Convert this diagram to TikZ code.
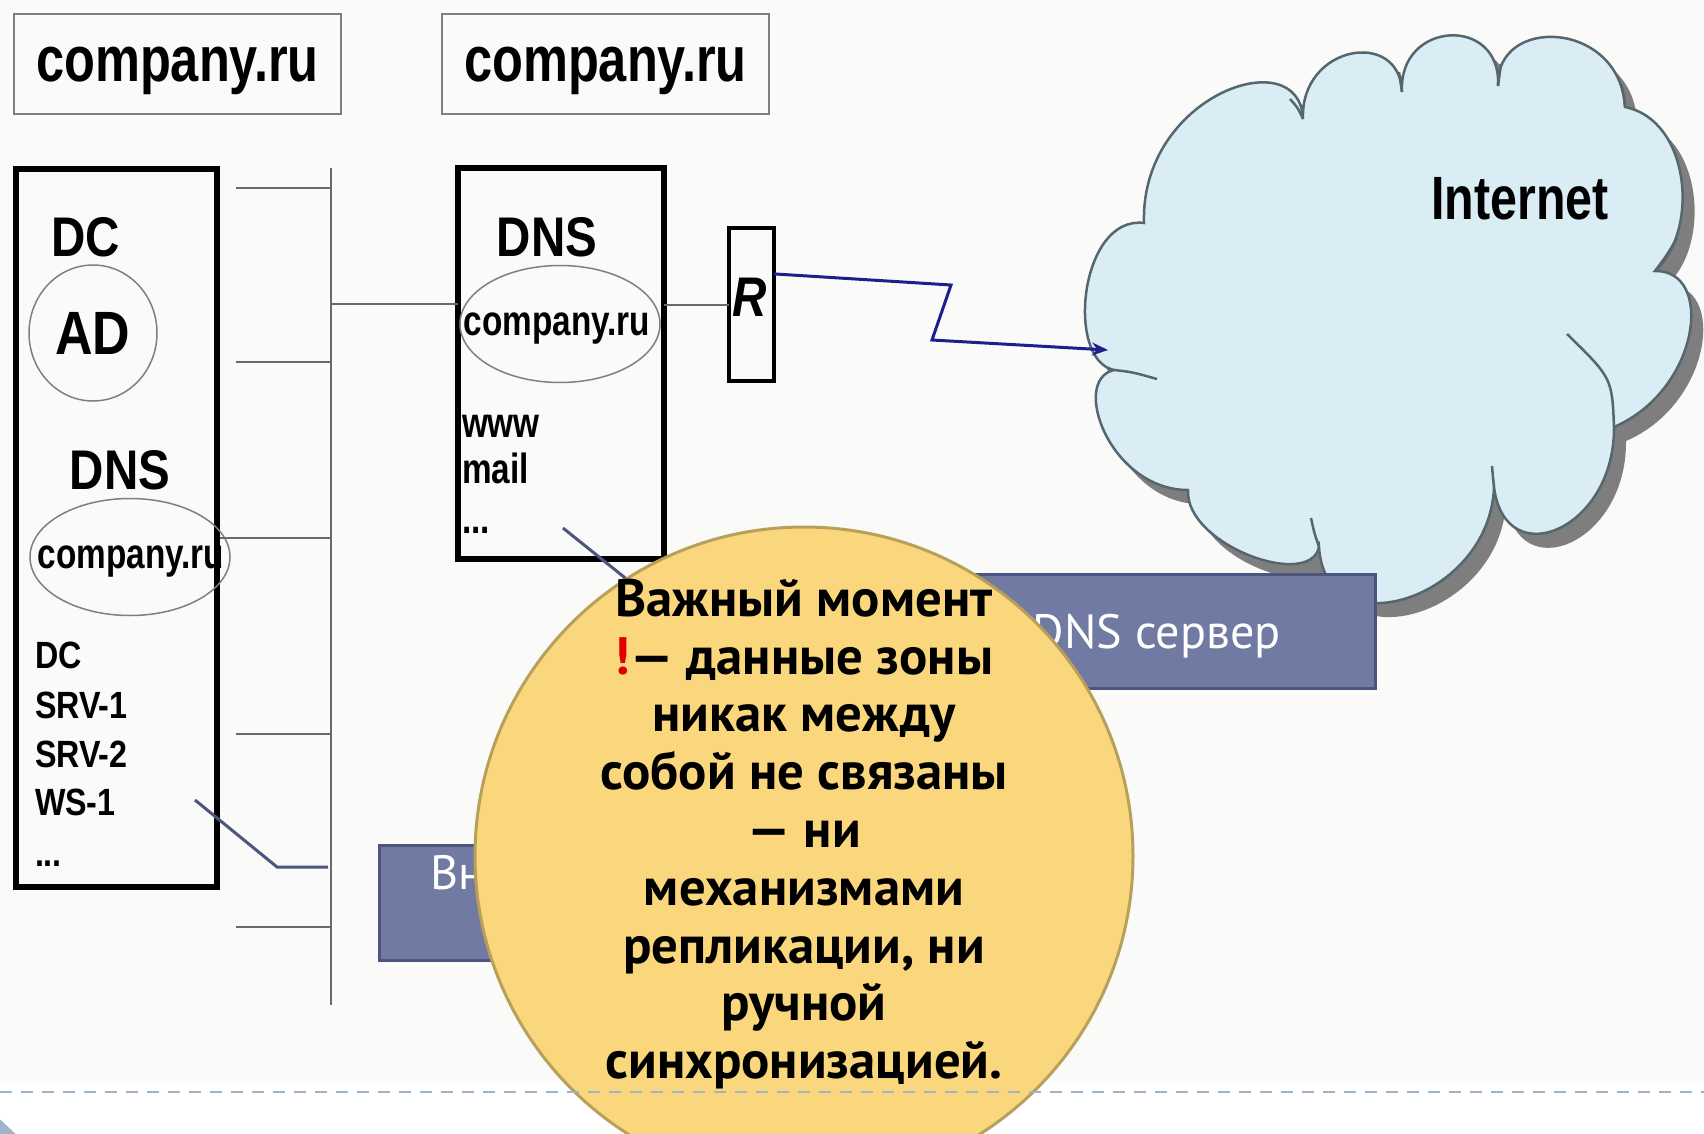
\documentclass[tikz,border=0pt]{standalone}
\usepackage{fontspec}
\setmainfont{Liberation Sans}
\newfontfamily\arialn[FakeStretch=0.79]{Liberation Sans}
\newfontfamily\arialcaps[FakeStretch=0.85]{Liberation Sans}
\newfontfamily\gill{PT Sans}
\usetikzlibrary{arrows.meta,shapes.geometric,calc}

\definecolor{paper}{HTML}{FAFBF8}
\definecolor{zonegray}{HTML}{7F7F7F}
\definecolor{busgray}{HTML}{6A6A6A}
\definecolor{cloudfill}{HTML}{DAECF4}
\definecolor{cloudline}{HTML}{55666E}
\definecolor{shadowgray}{HTML}{7E7E7E}
\definecolor{wanblue}{HTML}{1F1F8C}
\definecolor{slate}{HTML}{707AA3}
\definecolor{slateline}{HTML}{4B5580}
\definecolor{gold}{HTML}{FAD77D}
\definecolor{goldline}{HTML}{B9A05A}
\definecolor{rulecol}{HTML}{9DB4C9}
\definecolor{bang}{HTML}{E00000}

\newcommand{\cloudoutline}{(1114,370) .. controls (1065,360) and (1080,215) .. (1144,223)
  .. controls (1140,95) and (1300,40) .. (1303,119)
  .. controls (1300,45) and (1400,28) .. (1402,92)
  .. controls (1398,20) and (1502,15) .. (1498,86)
  .. controls (1495,15) and (1620,20) .. (1625,107)
  .. controls (1690,120) and (1700,230) .. (1655,271)
  .. controls (1715,270) and (1700,390) .. (1614,427)
  .. controls (1615,530) and (1505,575) .. (1494,487)
  .. controls (1490,600) and (1325,650) .. (1319,547)
  .. controls (1310,590) and (1185,545) .. (1188,490)
  .. controls (1110,490) and (1070,380) .. (1114,370) -- cycle}

\begin{document}
\begin{tikzpicture}[x=0.1mm,y=-0.1mm,
  every node/.style={inner sep=0pt,outer sep=0pt},
  zonebox/.style={draw=zonegray,line width=0.2mm,minimum width=32.7mm,minimum height=10mm,
    text depth=0pt,font=\arialn\bfseries\fontsize{18.2pt}{20pt}\selectfont},
  srvbox/.style={draw=black,line width=0.6mm},
  lbl/.style={font=\arialcaps\bfseries\fontsize{15.9pt}{18pt}\selectfont},
  zoneell/.style={ellipse,draw=zonegray,line width=0.15mm,minimum width=20mm,minimum height=11.7mm},
  zonetxt/.style={text depth=0pt,font=\arialn\bfseries\fontsize{12pt}{14pt}\selectfont},
  host/.style={anchor=base west,font=\arialcaps\bfseries\fontsize{10.8pt}{13pt}\selectfont},
  rec/.style={anchor=base west,font=\arialn\bfseries\fontsize{12pt}{14pt}\selectfont},
  bus/.style={draw=busgray,line width=0.2mm},
  wan/.style={draw=wanblue,line width=0.3mm,-{Stealth[length=1.6mm,width=1.3mm]}},
  notebox/.style={draw=slateline,fill=slate,line width=0.3mm,text=white,text depth=0pt,
    font=\gill\fontsize{13.7pt}{17pt}\selectfont},
  pointer/.style={draw=slateline,line width=0.3mm},
  bubble/.style={circle,draw=goldline,fill=gold,line width=0.3mm,minimum size=65.8mm},
  bubbletext/.style={align=center,font=\gill\bfseries\fontsize{15pt}{16.44pt}\selectfont}]
  \useasboundingbox (0,0) rectangle (1704,1133);
  \clip (0,0) rectangle (1704,1133);
  \fill[white] (0,0) rectangle (1704,1133);
  \fill[paper] (0,0) rectangle (1704,1081);

  \node[zonebox] (zone0) at (177.5,64) {company.ru};
  \node[zonebox] (zone1) at (605.5,64) {company.ru};

  \node[srvbox,minimum width=20.1mm,minimum height=71.8mm] (dc) at (116.5,528) {};
  \node[lbl] (dcname) at (86,237) {DC};
  \node[zoneell,minimum width=12.8mm,minimum height=13.6mm,
    font=\arialcaps\bfseries\fontsize{17.4pt}{20pt}\selectfont] (ad) at (93,333) {AD};
  \node[lbl] (dns0name) at (120,470) {DNS};
  \node[zoneell] (zone2) at (130,557) {};
  \node[zonetxt] (zone2txt) at (131,557) {company.ru};
  \node[host] (h0) at (35,668) {DC};
  \node[host] (h1) at (35,718) {SRV-1};
  \node[host] (h2) at (35,767) {SRV-2};
  \node[host] (h3) at (35,815) {WS-1};
  \node[host] (h4) at (35,866) {...};

  \node[srvbox,minimum width=20.6mm,minimum height=39.1mm] (dns) at (561,363.5) {};
  \node[lbl] (dns1name) at (547,237) {DNS};
  \node[zoneell] (zone3) at (560,324) {};
  \node[zonetxt] (zone3txt) at (557,324) {company.ru};
  \node[rec] (www) at (462,437) {www};
  \node[rec] (mail) at (462,483) {mail};
  \node[rec] (more) at (462,533) {...};

  \node[srvbox,line width=0.45mm,minimum width=4.5mm,minimum height=15.3mm] (router) at (751.5,304.5) {};
  \node[font=\arialcaps\bfseries\itshape\fontsize{15.9pt}{18pt}\selectfont] (rname) at (750,297) {R};

  \coordinate (bustop) at (331,168);
  \coordinate (busbot) at (331,1005);
  \draw[bus] (bustop) -- (busbot);
  \foreach \n/\x/\y in {s0/236/188,s1/236/362,s2/220/538,s3/236/734,s4/236/927}
  {
    \coordinate (\n) at (\x,\y);
    \draw[bus] (\n) -- (\n -| bustop);
  }
  \coordinate (tap) at (331,304);
  \draw[bus] (tap) -- (tap -| dns.west);
  \draw[bus] (dns.east |- router.west) -- (router.west);

  \fill[shadowgray,shift={(12,14)}] \cloudoutline;
  \filldraw[fill=cloudfill,draw=cloudline,line width=0.25mm] \cloudoutline;
  \draw[cloudline,line width=0.25mm] (1114,370) .. controls (1132,372) .. (1157,379);
  \draw[cloudline,line width=0.25mm] (1614,427) .. controls (1612,378) .. (1567,334);
  \draw[cloudline,line width=0.25mm] (1319,547) .. controls (1314,532) .. (1311,518);
  \draw[cloudline,line width=0.25mm] (1494,487) .. controls (1493,478) .. (1492,466);
  \draw[cloudline,line width=0.25mm] (1303,119) .. controls (1298,108) .. (1290,99);
  \draw[cloudline,line width=0.25mm] (1402,92) .. controls (1401,82) .. (1399,72);
  \draw[cloudline,line width=0.25mm] (1498,86) .. controls (1499,75) .. (1501,64);
  \draw[cloudline,line width=0.25mm] (1625,107) .. controls (1624,96) .. (1621,84);
  \draw[cloudline,line width=0.25mm] (1655,271) .. controls (1667,255) .. (1677,238);
  \node[font=\arialn\bfseries\fontsize{17.4pt}{20pt}\selectfont] (inettxt) at (1520,199) {Internet};

  \coordinate (w0) at (951,285);
  \coordinate (w1) at (932,340);
  \coordinate (inet) at (1108,350);
  \draw[wan] ($(router.north east)!0.3!(router.south east)$) -- (w0) -- (w1) -- (inet);

  \node[notebox,minimum width=64.2mm,minimum height=11.4mm] (extnote) at (1054,631) {Внешний DNS сервер};
  \node[notebox,minimum width=45.6mm,minimum height=11.5mm,align=center] (intnote) at (607,902.5) {Внутренний DNS\\сервер};

  \coordinate (p0) at (195,800);
  \coordinate (p1) at (277,867);
  \coordinate (p2) at (328,867);
  \draw[pointer] (p0) -- (p1) -- (p2);
  \coordinate (p3) at (563,528);
  \coordinate (p4) at (690,630);
  \draw[pointer] (p3) -- (p4);

  \node[bubble] (bub) at (804,856) {};
  \node[bubbletext] (bubtxt) at (804,834) {Важный момент\\
    {\color{bang}!}— данные зоны\\
    никак между\\
    собой не связаны\\
    — ни\\
    механизмами\\
    репликации, ни\\
    ручной\\
    синхронизацией.};

  \draw[rulecol,line width=0.2mm,dash pattern=on 1.2mm off 0.9mm] (0,1092) -- (1704,1092);
  \fill[rulecol] (-10,1110) -- (22,1140) -- (-10,1170) -- cycle;
\end{tikzpicture}
\end{document}
